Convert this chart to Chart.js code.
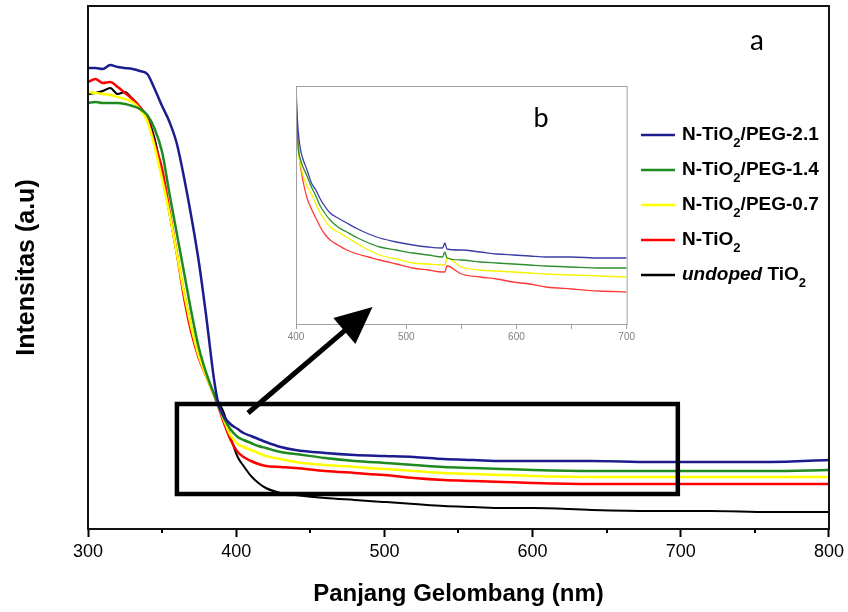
<!DOCTYPE html>
<html><head><meta charset="utf-8">
<script src="https://cdn.jsdelivr.net/npm/chart.js@4"></script>
<style>
html,body{margin:0;padding:0;background:#fff;}
#wrap{position:relative;width:848px;height:612px;overflow:hidden;}
#main{position:absolute;left:0;top:0;z-index:2;}
#inset{position:absolute;left:270px;top:70px;z-index:1;}
</style></head><body>
<div id="wrap">
<canvas id="inset" width="367" height="280"></canvas>
<canvas id="main" width="848" height="612"></canvas>
</div>
<script>
// ---------- main panel (a) ----------
const wavelengths = [300,305,310,315,320,325,330,335,340,345,350,355,360,365,370,375,380,385,388,392,396,401,405,410,415,420,430,440,460,480,500,520,540,560,580,600,640,680,720,760,800];
const peg21   = [461,461,460,464,462,461,460,458,455,440,423,407,385,350,310,265,210,150,125,112,105,100,96,93,90,87,82,79,76,74,73,72,70,69,68,68,68,67,67,67,69];
const peg14   = [426,427,426,426,426,425,423,420,414,400,377,335,295,255,215,180,155,135,123,110,100,92,89,86,83,81,77,75,71,68,66,64,62,61,60,59,58,58,58,58,59];
const peg07   = [437,436,435,434,432,430,427,420,408,382,350,315,275,235,200,172,152,134,123,108,94,85,82,79,76,73,70,67,64,62,60,58,56,55,54,53,52,52,52,52,52];
const nTiO2   = [447,450,446,447,442,436,430,422,410,385,360,318,275,230,195,170,152,134,122,105,90,77,72,68,65,63,62,61,58,56,54,51,49,48,47,46,45,45,45,45,45];
const undoped = [435,436,438,441,435,437,430,422,412,390,355,315,275,235,200,172,152,135,127,115,93,72,63,53,46,41,36,34,31,29,27,25,23,22,21,21,19,18,18,17,17];

// ---------- inset panel (b) ----------
const insetWavelengths = [400,401,402,404,406,410,414,418,422,426,431,438,446,456,466,476,491,506,520,533,535,537,550,567,582,597,612,627,650,675,700];
const insetPeg21 = [237,210,193,175,166,154,141,134,125,118,111,106,101,95,90,86,82,79,77,76,81,75,74,72,70,69,68,67,67,66,66];
const insetPeg14 = [232,200,176,165,158,148,137,128,118,111,104,97,92,86,81,77,74,71,69,67,72,66,64,62,61,60,59,58,57,56,56];
const insetPeg07 = [205,188,172,160,150,138,130,120,111,104,97,92,87,80,74,69,65,61,60,59,59,66,57,54,53,52,51,50,49,48,47];
const insetNTiO2 = [206,193,180,158,145,126,115,106,97,90,84,79,74,70,67,64,60,56,54,52,52,58,50,47,45,42,40,37,35,33,32];

const mainTickLabels  = [300,400,500,600,700,800];
const insetTickLabels = [400,500,600,700];
const seriesLabels = ['N-TiO2/PEG-2.1','N-TiO2/PEG-1.4','N-TiO2/PEG-0.7','N-TiO2','undoped TiO2'];
const seriesColors = ['#1c1c8f','#1f8a1f','#ffff00','#ff0000','#000000'];
const insetColors  = ['#3d3da6','#2f8f2f','#f4f400','#ff3a3a'];

// highlight box and arrow (data units: nm, a.u.)
const zoomBoxWavelength = [360,698];
const zoomBoxIntensity  = [35,125];
const arrowWavelength   = [408,492];
const arrowIntensity    = [116,222];

const FONT = '"Liberation Sans", Arial, sans-serif';

function pairs(xs, ys){ return xs.map((x,i)=>({x:x,y:ys[i]})); }

function labelSegments(label){
  const segs = [];
  let rest = label;
  if (rest.startsWith('undoped ')) { segs.push({t:'undoped ', style:'italic'}); rest = rest.slice(8); }
  const parts = rest.split(/(TiO)2/);
  parts.forEach((p)=>{
    if (p==='') return;
    segs.push({t:p, style:'normal'});
    if (p==='TiO') segs.push({t:'2', style:'sub'});
  });
  return segs;
}

const mainDecor = {
  id:'mainDecor',
  afterDraw(chart){
    const ctx = chart.ctx, a = chart.chartArea, xs = chart.scales.x, ys = chart.scales.y;
    ctx.save();
    // frame
    ctx.strokeStyle = '#111'; ctx.lineWidth = 2;
    ctx.strokeRect(a.left, a.top, a.right-a.left, a.bottom-a.top);
    // minor ticks
    ctx.strokeStyle = '#000'; ctx.lineWidth = 2;
    for (let v=350; v<800; v+=100){
      const px = Math.round(xs.getPixelForValue(v));
      ctx.beginPath(); ctx.moveTo(px, a.bottom); ctx.lineTo(px, a.bottom+4); ctx.stroke();
    }
    // zoom box
    const bx0 = xs.getPixelForValue(zoomBoxWavelength[0]), bx1 = xs.getPixelForValue(zoomBoxWavelength[1]);
    const by0 = ys.getPixelForValue(zoomBoxIntensity[1]), by1 = ys.getPixelForValue(zoomBoxIntensity[0]);
    ctx.lineWidth = 4.5; ctx.strokeStyle = '#000';
    ctx.strokeRect(bx0, by0, bx1-bx0, by1-by0);
    // arrow
    const ax0 = xs.getPixelForValue(arrowWavelength[0]), ay0 = ys.getPixelForValue(arrowIntensity[0]);
    const ax1 = xs.getPixelForValue(arrowWavelength[1]), ay1 = ys.getPixelForValue(arrowIntensity[1]);
    const ang = Math.atan2(ay1-ay0, ax1-ax0);
    const hl = 37, hw = 17;
    const bxm = ax1 - hl*Math.cos(ang), bym = ay1 - hl*Math.sin(ang);
    ctx.lineWidth = 5; ctx.lineCap = 'butt';
    ctx.beginPath(); ctx.moveTo(ax0, ay0); ctx.lineTo(bxm+2*Math.cos(ang), bym+2*Math.sin(ang)); ctx.stroke();
    ctx.fillStyle = '#000';
    ctx.beginPath();
    ctx.moveTo(ax1, ay1);
    ctx.lineTo(bxm + hw*Math.sin(ang), bym - hw*Math.cos(ang));
    ctx.lineTo(bxm - hw*Math.sin(ang), bym + hw*Math.cos(ang));
    ctx.closePath(); ctx.fill();
    // panel label
    ctx.fillStyle = '#000'; ctx.font = '28px Lato, "Open Sans", sans-serif';
    ctx.textAlign = 'center'; ctx.textBaseline = 'middle';
    ctx.fillText('a', 757, 41);
    // legend
    const lx0 = 641, lx1 = 675, tx = 682;
    chart.data.datasets.forEach((ds, i)=>{
      const y = 135 + i*35;
      ctx.strokeStyle = ds.borderColor; ctx.lineWidth = 2.5;
      ctx.beginPath(); ctx.moveTo(lx0, y); ctx.lineTo(lx1, y); ctx.stroke();
      let x = tx;
      ctx.textAlign = 'left'; ctx.textBaseline = 'middle'; ctx.fillStyle = '#000';
      labelSegments(ds.label).forEach(s=>{
        if (s.style==='sub'){
          ctx.font = 'bold 13px ' + FONT;
          ctx.fillText(s.t, x, y+8);
        } else if (s.style==='italic'){
          ctx.font = 'italic bold 19px ' + FONT;
          ctx.fillText(s.t, x, y);
        } else {
          ctx.font = 'bold 19px ' + FONT;
          ctx.fillText(s.t, x, y);
        }
        x += ctx.measureText(s.t).width;
      });
    });
    ctx.restore();
  }
};

const mainSeries = [peg21, peg14, peg07, nTiO2, undoped];
new Chart(document.getElementById('main'), {
  type:'line',
  data:{ datasets: seriesLabels.map((lab,i)=>({
    label:lab, data:pairs(wavelengths, mainSeries[i]), borderColor:seriesColors[i],
    borderWidth: i===4 ? 2 : 2.5, pointRadius:0, fill:false, cubicInterpolationMode:'monotone'
  }))},
  options:{
    responsive:false, animation:false,
    layout:{padding:{left:0,right:18,top:6,bottom:0}},
    plugins:{legend:{display:false}, tooltip:{enabled:false}},
    scales:{
      x:{type:'linear', min:300, max:800,
         afterFit(s){ s.height = 83; },
         afterBuildTicks(s){ s.ticks = mainTickLabels.map(v=>({value:v})); },
         ticks:{autoSkip:false, maxRotation:0, color:'#000', padding:4, font:{family:FONT, size:18}},
         grid:{drawOnChartArea:false, drawTicks:true, tickLength:8, tickColor:'#000', tickWidth:2},
         border:{display:true, color:'#000', width:2},
         title:{display:true, text:'Panjang Gelombang (nm)', color:'#000', font:{family:FONT, size:24, weight:'bold'}, padding:{top:0,bottom:3}}
      },
      y:{min:0, max:523,
         afterFit(s){ s.width = 88; },
         ticks:{display:false}, grid:{display:false},
         border:{display:true, color:'#000', width:2},
         title:{display:true, text:'Intensitas (a.u)', color:'#000', font:{family:FONT, size:25, weight:'bold'}, padding:{top:12,bottom:0}}
      }
    }
  },
  plugins:[mainDecor]
});

// ---------- inset ----------
const insetDecor = {
  id:'insetDecor',
  afterDraw(chart){
    const ctx = chart.ctx, a = chart.chartArea;
    ctx.save();
    ctx.strokeStyle = '#a0a0a0'; ctx.lineWidth = 1;
    ctx.strokeRect(a.left+0.5, a.top+0.5, a.right-a.left, a.bottom-a.top);
    ctx.fillStyle = '#000'; ctx.font = '27px Lato, "Open Sans", sans-serif';
    ctx.textAlign = 'center'; ctx.textBaseline = 'middle';
    ctx.fillText('b', 541-270, 118-70);
    ctx.restore();
  }
};
const insetSeries = [insetPeg21, insetPeg14, insetPeg07, insetNTiO2];
new Chart(document.getElementById('inset'), {
  type:'line',
  data:{ datasets: insetSeries.map((s,i)=>({
    label:seriesLabels[i], data:pairs(insetWavelengths, s), borderColor:insetColors[i],
    borderWidth:1.3, pointRadius:0, fill:false, cubicInterpolationMode:'monotone'
  }))},
  options:{
    responsive:false, animation:false,
    layout:{padding:{left:0,right:10,top:16,bottom:0}},
    plugins:{legend:{display:false}, tooltip:{enabled:false}},
    scales:{
      x:{type:'linear', min:400, max:700,
         afterFit(s){ s.height = 26; },
         afterBuildTicks(s){ const t=[]; for(let v=400; v<=700; v+=50) t.push({value:v}); s.ticks = t; },
         ticks:{autoSkip:false, maxRotation:0, color:'#808080', padding:2, font:{family:FONT, size:10},
                callback:(v)=> insetTickLabels.includes(v) ? String(v) : ''},
         grid:{drawOnChartArea:false, drawTicks:true, tickLength:5, tickColor:'#a0a0a0', tickWidth:1},
         border:{display:true, color:'#a0a0a0', width:1}
      },
      y:{min:0, max:238,
         afterFit(s){ s.width = 26; },
         ticks:{display:false}, grid:{display:false},
         border:{display:true, color:'#a0a0a0', width:1}
      }
    }
  },
  plugins:[insetDecor]
});
</script>
</body></html>
